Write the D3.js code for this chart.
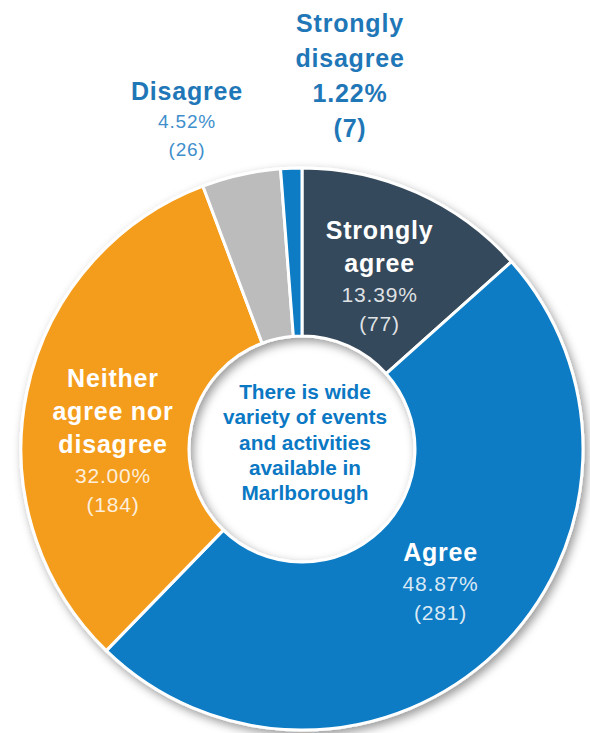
<!DOCTYPE html>
<html>
<head>
<meta charset="utf-8">
<script src="https://cdn.jsdelivr.net/npm/d3@7"></script>
<style>
  html, body { margin: 0; padding: 0; background: #fff; }
  text { font-family: "Liberation Sans", Arial, sans-serif; }
</style>
</head>
<body>
<svg id="donut" width="590" height="733"></svg>
<script>
// survey answers, clockwise from 12 o'clock
const categories = ["Strongly agree", "Agree", "Neither agree nor disagree", "Disagree", "Strongly disagree"];
const counts = [77, 281, 184, 26, 7];
const percents = ["13.39%", "48.87%", "32.00%", "4.52%", "1.22%"];
const nameLines = [["Strongly", "agree"], ["Agree"], ["Neither", "agree nor", "disagree"], ["Disagree"], ["Strongly", "disagree"]];
const centreLines = ["There is wide", "variety of events", "and activities", "available in", "Marlborough"];

const colors = ["#364a5b", "#0a7cc5", "#f49d1c", "#bcbcbc", "#0a7cc5"];

const svg = d3.select("#donut");
const cx = 302, cy = 449;
const outerR = 281, innerR = 113;

// drop shadow for the ring
const defs = svg.append("defs");
const filter = defs.append("filter").attr("id", "shadow")
    .attr("x", "-20%").attr("y", "-20%").attr("width", "140%").attr("height", "140%");
filter.append("feDropShadow")
    .attr("dx", 3).attr("dy", 4).attr("stdDeviation", 5)
    .attr("flood-color", "#000").attr("flood-opacity", 0.4);

const g = svg.append("g").attr("transform", "translate(" + cx + "," + cy + ")");

const data = categories.map((c, i) => ({ name: c, count: counts[i], pct: percents[i], lines: nameLines[i], color: colors[i] }));

const pie = d3.pie().value(d => d.count).sort(null);
const arc = d3.arc().innerRadius(innerR).outerRadius(outerR);
const labelArc = d3.arc().innerRadius(190).outerRadius(190);
const arcs = pie(data);

g.append("g").attr("filter", "url(#shadow)")
  .selectAll("path")
  .data(arcs)
  .join("path")
    .attr("d", arc)
    .attr("fill", d => d.data.color)
    .attr("stroke", "#fff")
    .attr("stroke-width", 3)
    .attr("stroke-linejoin", "round");

// draws a stack of text lines centred on (x, y)
function stack(parent, x, y, lines) {
    const total = d3.sum(lines, l => l.step);
    let cur = y - total / 2;
    lines.forEach(l => {
        parent.append("text")
            .attr("x", x)
            .attr("y", cur + l.step / 2 + l.size * 0.36)
            .attr("text-anchor", "middle")
            .attr("font-size", l.size)
            .attr("font-weight", l.bold ? "bold" : "normal")
            .attr("letter-spacing", l.spacing || 0)
            .attr("fill", l.color)
            .attr("fill-opacity", l.opacity || 1)
            .text(l.text);
        cur += l.step;
    });
}

// labels inside the large slices
const inside = { 0: [0, 0], 1: [7, -5], 2: [-3, 30] };
arcs.forEach((a, i) => {
    if (!(i in inside)) return;
    const [px, py] = labelArc.centroid(a);
    const lines = a.data.lines.map(t => ({ text: t, size: 25, bold: true, step: 33, color: "#fff", spacing: 0.8 }));
    lines.push({ text: a.data.pct, size: 21, step: 30, color: "#fff", opacity: 0.85, spacing: 0.8 });
    lines.push({ text: "(" + a.data.count + ")", size: 21, step: 29, color: "#fff", opacity: 0.85, spacing: 0.8 });
    stack(g, px + inside[i][0], py + inside[i][1], lines);
});

// labels above the ring for the two small slices
const dis = arcs[3].data;
stack(svg, 187, 119, [
    { text: dis.lines[0], size: 25, bold: true, step: 33, color: "#1f77b7", spacing: 0.8 },
    { text: dis.pct, size: 19, step: 28, color: "#3f8fcc", spacing: 0.8 },
    { text: "(" + dis.count + ")", size: 19, step: 28, color: "#3f8fcc", spacing: 0.8 }
]);

const sdis = arcs[4].data;
const sdLines = sdis.lines.map(t => ({ text: t, size: 25, bold: true, step: 35, color: "#1f77b7", spacing: 0.8 }));
sdLines.push({ text: sdis.pct, size: 25, bold: true, step: 35, color: "#1f77b7", spacing: 0.8 });
sdLines.push({ text: "(" + sdis.count + ")", size: 25, bold: true, step: 35, color: "#1f77b7", spacing: 0.8 });
stack(svg, 350, 75, sdLines);

// title in the hole
stack(g, 3, -7, centreLines.map(t => ({ text: t, size: 20.8, bold: true, step: 25.3, color: "#0b78c4" })));
</script>
</body>
</html>
